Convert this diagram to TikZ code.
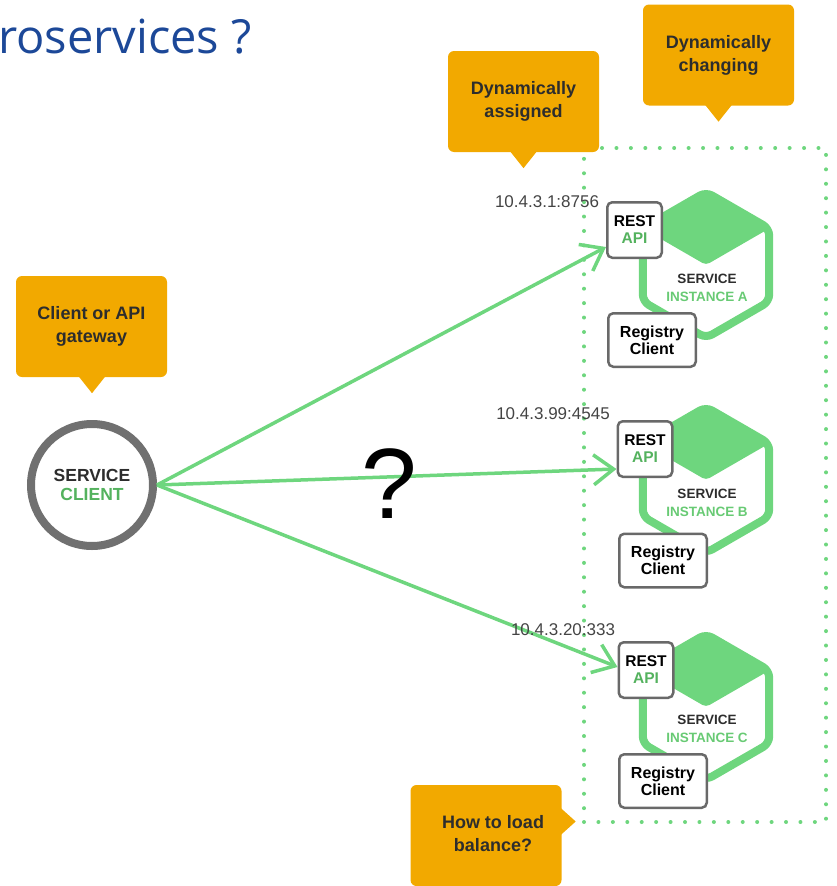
\documentclass[tikz,border=0pt]{standalone}
\usepackage{fontspec}
\setmainfont{Liberation Sans}
\newfontfamily\titlefont{Open Sans}
\usetikzlibrary{arrows.meta}

\definecolor{brandgreen}{RGB}{110,214,126}
\definecolor{labelgreen}{RGB}{84,178,94}
\definecolor{softgreen}{RGB}{104,202,116}
\definecolor{calloutorange}{RGB}{242,169,0}
\definecolor{titleblue}{RGB}{28,72,152}
\definecolor{boxgray}{RGB}{105,105,105}
\definecolor{ringgray}{RGB}{112,112,112}
\definecolor{inkdark}{RGB}{45,45,45}
\definecolor{ipgray}{RGB}{68,68,68}

\tikzset{
  callout/.style={fill=calloutorange, rounded corners=6pt, minimum width=151pt,
    minimum height=101pt, inner sep=0pt, align=center, text=inkdark,
    font=\fontsize{18pt}{23pt}\selectfont\bfseries},
  callouttext/.style={inner sep=0pt, align=center, text=inkdark,
    font=\fontsize{18pt}{23pt}\selectfont\bfseries},
  restbox/.style={draw=boxgray, line width=2.5pt, fill=white, rounded corners=5pt,
    minimum width=54.5pt, minimum height=55.5pt, inner sep=0pt, align=center,
    text=black, font=\fontsize{15.5pt}{17pt}\selectfont\bfseries},
  regbox/.style={restbox, minimum width=87.5pt, minimum height=53.5pt,
    font=\fontsize{16pt}{17pt}\selectfont\bfseries},
  clientring/.style={circle, draw=ringgray, line width=8pt, fill=white,
    minimum size=122pt, inner sep=0pt, align=center, text=inkdark,
    font=\fontsize{17.5pt}{19pt}\selectfont\bfseries},
  svctext/.style={inner sep=0pt, align=center, text=inkdark,
    font=\fontsize{13.5pt}{18pt}\selectfont\bfseries},
  iplabel/.style={inner sep=0pt, text=ipgray, font=\fontsize{17pt}{17pt}\selectfont},
  dotframe/.style={draw=brandgreen, line width=4pt, line cap=round,
    dash pattern=on 0pt off 14.43pt, inner sep=0pt},
  hexline/.style={draw=brandgreen, line width=8pt, rounded corners=7pt, line join=round},
  hexface/.style={fill=brandgreen, rounded corners=4pt},
  link/.style={draw=brandgreen, line width=3.5pt,
    -{Straight Barb[length=20pt,width=30pt]}},
  pointer/.style={fill=calloutorange},
  pics/servicecube/.style={code={
    \draw[hexline] (0,-73) -- (63.2,-36.5) -- (63.2,36.5) -- (0,73)
      -- (-63.2,36.5) -- (-63.2,-36.5) -- cycle;
    \fill[hexface] (0,-73) -- (63.2,-36.5) -- (0,0) -- (-63.2,-36.5) -- cycle;
  }}
}

\begin{document}
\begin{tikzpicture}[x=1pt,y=-1pt]
\useasboundingbox (0,0) rectangle (837,886);

% heading
\node[anchor=base west, inner sep=0pt, text=titleblue,
  font=\titlefont\fontsize{47pt}{50pt}\selectfont] (title) at (-2,53) {roservices ?};

% pool of service instances
\node[dotframe, minimum width=242pt, minimum height=674pt] (pool) at (705,485) {};

% service instances
\pic at (706,265) {servicecube};
\pic at (706,480) {servicecube};
\pic at (706,707) {servicecube};

\node[svctext] (svcA) at (707,288) {SERVICE\\\textcolor{softgreen}{INSTANCE A}};
\node[svctext] (svcB) at (707,503) {SERVICE\\\textcolor{softgreen}{INSTANCE B}};
\node[svctext] (svcC) at (707,729) {SERVICE\\\textcolor{softgreen}{INSTANCE C}};

% client
\node[clientring] (client) at (92,485) {SERVICE\\\textcolor{labelgreen}{CLIENT}};

% endpoints
\node[restbox] (restA) at (634.5,230) {REST\\\textcolor{labelgreen}{API}};
\node[restbox] (restB) at (645,449) {REST\\\textcolor{labelgreen}{API}};
\node[restbox] (restC) at (646,670) {REST\\\textcolor{labelgreen}{API}};

\node[regbox] (regA) at (652,340) {Registry\\Client};
\node[regbox] (regB) at (663,560.5) {Registry\\Client};
\node[regbox] (regC) at (663,781) {Registry\\Client};

% requests
\draw[link] (client.east) -- ([yshift=-17pt]restA.west);
\draw[link] (client.east) -- ([yshift=-20pt]restB.west);
\draw[link] (client.east) -- ([yshift=3pt]restC.west);

\node[font=\fontsize{100pt}{100pt}\selectfont, inner sep=0pt] (ask) at (389.5,484) {?};

% addresses
\node[iplabel] (ipA) at (547,202) {10.4.3.1:8756};
\node[iplabel] (ipB) at (553,414) {10.4.3.99:4545};
\node[iplabel] (ipC) at (563,630) {10.4.3.20:333};

% callouts
\node[callout] (dynAssigned) at (523.5,101.5) {Dynamically\\assigned};
\fill[pointer] ([xshift=-13.5pt,yshift=1pt]dynAssigned.south)
  -- ([xshift=13.5pt,yshift=1pt]dynAssigned.south)
  -- ([yshift=-16pt]dynAssigned.south) -- cycle;

\node[callout] (dynChanging) at (718.5,55) {Dynamically\\changing};
\fill[pointer] ([xshift=-13.5pt,yshift=1pt]dynChanging.south)
  -- ([xshift=13.5pt,yshift=1pt]dynChanging.south)
  -- ([yshift=-16pt]dynChanging.south) -- cycle;

\node[callout] (gateway) at (91.5,326.5) {Client or API\\gateway};
\fill[pointer] ([xshift=-13pt,yshift=1pt]gateway.south)
  -- ([xshift=14pt,yshift=1pt]gateway.south)
  -- ([xshift=0.5pt,yshift=-16pt]gateway.south) -- cycle;

\node[callout] (balance) at (486,835.5) {};
\node[callouttext] (balanceText) at (493,834) {How to load\\balance?};
\fill[pointer] ([xshift=-1pt,yshift=27.5pt]balance.east)
  -- ([xshift=-1pt,yshift=0.5pt]balance.east)
  -- ([xshift=14pt,yshift=14pt]balance.east) -- cycle;

\end{tikzpicture}
\end{document}
